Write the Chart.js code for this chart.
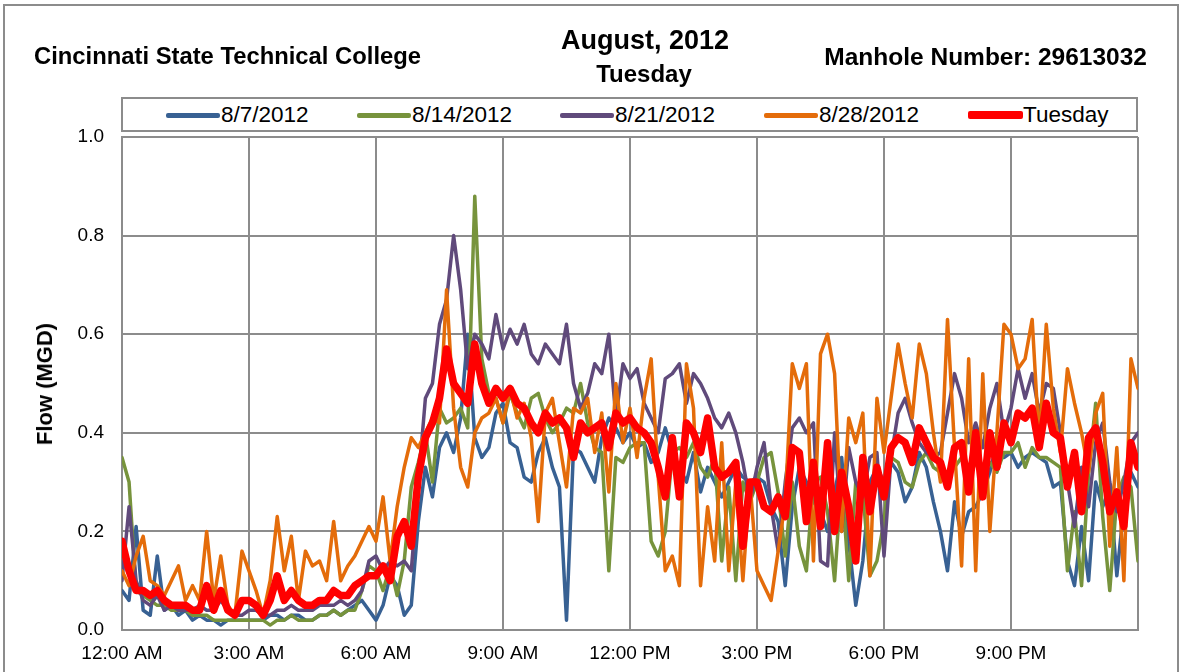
<!DOCTYPE html>
<html>
<head>
<meta charset="utf-8">
<script src="https://cdn.jsdelivr.net/npm/chart.js@4.4.1/dist/chart.umd.min.js"></script>
<style>
    html, body { margin: 0; padding: 0; background: #fff; }
    #wrap { position: relative; width: 1183px; height: 672px; overflow: hidden; background: #fff; }
    #frame { position: absolute; left: 3px; top: 4px; width: 1172px; height: 720px; border: 2px solid #8c8c8c; }
    #c { position: absolute; left: 0; top: 0; }
    .hd { position: absolute; font-family: "Liberation Sans", Arial, sans-serif; font-weight: bold; color: #000; line-height: 1; white-space: nowrap; }
    #legend { position: absolute; left: 121px; top: 97px; width: 1013px; height: 31px; border: 2px solid #8c8c8c; background: #fff; }
    .lg-line { position: absolute; border-radius: 2px; }
    .lg-text { position: absolute; font-family: "Liberation Sans", Arial, sans-serif; font-size: 22.5px; line-height: 1; color: #000; white-space: nowrap; }
    #ytitle { position: absolute; left: 45px; top: 384px; transform: translate(-50%, -50%) rotate(-90deg); font-family: "Liberation Sans", Arial, sans-serif; font-weight: bold; font-size: 22px; line-height: 1; white-space: nowrap; }
</style>
</head>
<body>
<div id="wrap">
    <div id="frame"></div>
    <canvas id="c" width="1183" height="672"></canvas>
    <div class="hd" style="left:34px; top:44px; font-size:23.8px;">Cincinnati State Technical College</div>
    <div class="hd" style="left:645px; top:27px; font-size:27px; transform:translateX(-50%);">August, 2012</div>
    <div class="hd" style="left:644px; top:62px; font-size:24px; transform:translateX(-50%);">Tuesday</div>
    <div class="hd" style="right:36px; top:45px; font-size:24.5px;">Manhole Number: 29613032</div>
    <div id="legend"></div>
    <div id="ytitle">Flow (MGD)</div>
</div>
<script>
// readings every 10 minutes, 12:00 AM through 12:00 AM next day
const stepMinutes = 10;
const xTickLabels = ['12:00 AM', '3:00 AM', '6:00 AM', '9:00 AM', '12:00 PM', '3:00 PM', '6:00 PM', '9:00 PM', ''];

const seriesNames = ['8/7/2012', '8/14/2012', '8/21/2012', '8/28/2012', 'Tuesday'];
const seriesColors = ['#386193', '#77933c', '#604a7b', '#e46c0a', '#ff0000'];

const flowAug07 = [
    0.08, 0.06, 0.21, 0.04, 0.03, 0.15, 0.04, 0.05, 0.03, 0.04, 0.02, 0.03, 0.02, 0.02, 0.01, 0.02, 0.02, 0.02,
    0.02, 0.02, 0.02, 0.03, 0.03, 0.02, 0.03, 0.03, 0.02, 0.02, 0.03, 0.03, 0.04, 0.03, 0.04, 0.05, 0.06, 0.04,
    0.02, 0.05, 0.11, 0.09, 0.03, 0.05, 0.22, 0.33, 0.27, 0.37, 0.40, 0.36, 0.43, 0.60, 0.39, 0.35, 0.37, 0.44,
    0.46, 0.38, 0.37, 0.31, 0.30, 0.36, 0.39, 0.33, 0.29, 0.02, 0.37, 0.36, 0.33, 0.30, 0.39, 0.43, 0.41, 0.38,
    0.40, 0.37, 0.38, 0.34, 0.36, 0.41, 0.36, 0.33, 0.30, 0.36, 0.28, 0.33, 0.30, 0.27, 0.30, 0.33, 0.31, 0.30,
    0.31, 0.30, 0.25, 0.22, 0.09, 0.25, 0.33, 0.30, 0.26, 0.24, 0.20, 0.28, 0.35, 0.18, 0.05, 0.14, 0.30, 0.33,
    0.30, 0.34, 0.32, 0.26, 0.29, 0.36, 0.33, 0.26, 0.20, 0.12, 0.26, 0.19, 0.24, 0.25, 0.28, 0.32, 0.38, 0.35,
    0.36, 0.33, 0.35, 0.36, 0.35, 0.34, 0.29, 0.30, 0.14, 0.09, 0.21, 0.10, 0.30, 0.25, 0.29, 0.11, 0.25, 0.32, 0.29
];
const flowAug14 = [
    0.35, 0.30, 0.08, 0.07, 0.06, 0.05, 0.05, 0.04, 0.04, 0.04, 0.03, 0.03, 0.03, 0.02, 0.02, 0.02, 0.02, 0.02,
    0.02, 0.02, 0.02, 0.01, 0.02, 0.02, 0.03, 0.02, 0.02, 0.02, 0.03, 0.03, 0.04, 0.03, 0.04, 0.04, 0.08, 0.13,
    0.12, 0.08, 0.13, 0.07, 0.14, 0.29, 0.34, 0.40, 0.30, 0.45, 0.42, 0.43, 0.45, 0.41, 0.88, 0.55, 0.48, 0.47,
    0.42, 0.48, 0.44, 0.41, 0.47, 0.48, 0.43, 0.40, 0.42, 0.45, 0.44, 0.50, 0.42, 0.37, 0.36, 0.12, 0.35, 0.34,
    0.37, 0.38, 0.38, 0.18, 0.15, 0.20, 0.36, 0.37, 0.35, 0.38, 0.33, 0.31, 0.35, 0.14, 0.29, 0.10, 0.30, 0.26,
    0.30, 0.35, 0.36, 0.28, 0.15, 0.30, 0.17, 0.12, 0.30, 0.31, 0.24, 0.10, 0.31, 0.10, 0.30, 0.28, 0.11, 0.14,
    0.22, 0.35, 0.34, 0.30, 0.29, 0.34, 0.36, 0.33, 0.32, 0.31, 0.33, 0.35, 0.31, 0.34, 0.32, 0.34, 0.32, 0.36,
    0.36, 0.38, 0.33, 0.37, 0.35, 0.35, 0.34, 0.33, 0.12, 0.24, 0.09, 0.32, 0.46, 0.23, 0.08, 0.27, 0.31, 0.29, 0.14
];
const flowAug21 = [
    0.10, 0.25, 0.10, 0.06, 0.05, 0.07, 0.04, 0.05, 0.04, 0.04, 0.04, 0.05, 0.04, 0.04, 0.06, 0.04, 0.03, 0.03,
    0.04, 0.04, 0.03, 0.03, 0.04, 0.04, 0.05, 0.04, 0.04, 0.04, 0.05, 0.05, 0.05, 0.06, 0.05, 0.06, 0.08, 0.14,
    0.15, 0.12, 0.14, 0.13, 0.14, 0.12, 0.30, 0.47, 0.50, 0.62, 0.67, 0.80, 0.69, 0.53, 0.60, 0.58, 0.55, 0.64,
    0.57, 0.61, 0.58, 0.62, 0.56, 0.54, 0.58, 0.56, 0.54, 0.62, 0.50, 0.45, 0.48, 0.54, 0.52, 0.60, 0.43, 0.54,
    0.51, 0.53, 0.46, 0.43, 0.40, 0.51, 0.52, 0.54, 0.46, 0.52, 0.50, 0.47, 0.43, 0.41, 0.44, 0.40, 0.34, 0.26,
    0.33, 0.38, 0.25, 0.16, 0.30, 0.41, 0.43, 0.40, 0.42, 0.14, 0.13, 0.40, 0.20, 0.37, 0.30, 0.27, 0.35, 0.36,
    0.15, 0.35, 0.44, 0.47, 0.42, 0.38, 0.36, 0.35, 0.36, 0.44, 0.52, 0.47, 0.38, 0.42, 0.37, 0.45, 0.50, 0.40,
    0.45, 0.53, 0.47, 0.52, 0.44, 0.50, 0.49, 0.40, 0.30, 0.21, 0.33, 0.25, 0.38, 0.42, 0.30, 0.24, 0.30, 0.38, 0.40
];
const flowAug28 = [
    0.12, 0.09, 0.15, 0.19, 0.10, 0.09, 0.07, 0.10, 0.13, 0.06, 0.09, 0.06, 0.20, 0.06, 0.15, 0.05, 0.03, 0.16,
    0.12, 0.08, 0.03, 0.10, 0.23, 0.12, 0.19, 0.06, 0.16, 0.13, 0.14, 0.10, 0.22, 0.10, 0.13, 0.15, 0.18, 0.21,
    0.18, 0.27, 0.14, 0.25, 0.33, 0.39, 0.37, 0.40, 0.43, 0.42, 0.69, 0.45, 0.33, 0.29, 0.40, 0.43, 0.44, 0.47,
    0.42, 0.49, 0.43, 0.46, 0.39, 0.22, 0.44, 0.47, 0.38, 0.29, 0.45, 0.44, 0.47, 0.36, 0.44, 0.28, 0.50, 0.38,
    0.45, 0.35, 0.47, 0.55, 0.31, 0.12, 0.15, 0.09, 0.54, 0.45, 0.09, 0.25, 0.14, 0.38, 0.12, 0.30, 0.10, 0.30,
    0.12, 0.09, 0.06, 0.16, 0.26, 0.54, 0.49, 0.54, 0.14, 0.56, 0.60, 0.52, 0.20, 0.43, 0.38, 0.44, 0.11, 0.47,
    0.36, 0.47, 0.58, 0.50, 0.43, 0.58, 0.52, 0.40, 0.30, 0.63, 0.37, 0.13, 0.55, 0.12, 0.52, 0.20, 0.40, 0.62,
    0.60, 0.53, 0.55, 0.63, 0.38, 0.62, 0.45, 0.36, 0.53, 0.46, 0.40, 0.32, 0.44, 0.48, 0.17, 0.37, 0.10, 0.55, 0.49
];
const flowTuesday = [
    0.18, 0.12, 0.08, 0.08, 0.07, 0.08, 0.06, 0.05, 0.05, 0.05, 0.04, 0.04, 0.09, 0.04, 0.08, 0.04, 0.03, 0.06,
    0.06, 0.05, 0.03, 0.06, 0.11, 0.06, 0.08, 0.06, 0.05, 0.05, 0.06, 0.06, 0.08, 0.07, 0.07, 0.09, 0.10, 0.11,
    0.11, 0.13, 0.10, 0.19, 0.22, 0.17, 0.31, 0.39, 0.42, 0.47, 0.57, 0.50, 0.48, 0.46, 0.58, 0.50, 0.46, 0.49,
    0.47, 0.49, 0.46, 0.45, 0.42, 0.40, 0.44, 0.42, 0.43, 0.41, 0.35, 0.42, 0.40, 0.41, 0.42, 0.37, 0.44, 0.42,
    0.43, 0.41, 0.40, 0.38, 0.33, 0.27, 0.39, 0.27, 0.42, 0.40, 0.36, 0.43, 0.33, 0.31, 0.32, 0.34, 0.17, 0.30,
    0.30, 0.25, 0.24, 0.27, 0.23, 0.37, 0.36, 0.22, 0.34, 0.21, 0.38, 0.20, 0.32, 0.25, 0.14, 0.35, 0.24, 0.33,
    0.27, 0.37, 0.39, 0.38, 0.34, 0.41, 0.38, 0.35, 0.34, 0.29, 0.37, 0.38, 0.28, 0.40, 0.27, 0.40, 0.33, 0.42,
    0.38, 0.44, 0.43, 0.45, 0.37, 0.46, 0.40, 0.39, 0.29, 0.36, 0.24, 0.39, 0.41, 0.34, 0.24, 0.28, 0.21, 0.38, 0.33
];

const allSeries = [flowAug07, flowAug14, flowAug21, flowAug28, flowTuesday];
const minutes = flowAug07.map((_, i) => i * stepMinutes);

// legend drawn as html, positions
const legendSpots = [43, 234, 437, 641, 845];
const legend = document.getElementById('legend');
seriesNames.forEach((name, i) => {
    const thick = i === 4 ? 8 : 5;
    const ln = document.createElement('div');
    ln.className = 'lg-line';
    ln.style.left = legendSpots[i] + 'px';
    ln.style.top = (16 - thick / 2) + 'px';
    ln.style.width = (i === 4 ? 55 : 54) + 'px';
    ln.style.height = thick + 'px';
    ln.style.background = seriesColors[i];
    legend.appendChild(ln);
    const tx = document.createElement('div');
    tx.className = 'lg-text';
    tx.style.left = (legendSpots[i] + 55) + 'px';
    tx.style.top = '5px';
    tx.textContent = name;
    legend.appendChild(tx);
});

const gridColor = '#8c8c8c';
const tickFont = { family: '"Liberation Sans", Arial, sans-serif', size: 19 };

const ctx = document.getElementById('c').getContext('2d');
new Chart(ctx, {
    type: 'line',
    data: {
        labels: minutes,
        datasets: allSeries.map((vals, i) => ({
            label: seriesNames[i],
            data: vals,
            borderColor: seriesColors[i],
            borderWidth: i === 4 ? 7.5 : 3.5,
            pointRadius: 0,
            tension: 0,
            fill: false,
            borderJoinStyle: 'round',
            borderCapStyle: 'round',
            order: 4 - i
        }))
    },
    options: {
        responsive: false,
        animation: false,
        devicePixelRatio: 1,
        layout: { padding: { top: 137, right: 45, left: 0, bottom: 0 } },
        plugins: {
            legend: { display: false },
            tooltip: { enabled: false }
        },
        scales: {
            x: {
                type: 'linear',
                min: 0,
                max: 1440,
                afterFit: s => { s.height = 42; },
                afterBuildTicks: s => {
                    s.ticks = xTickLabels.map((_, i) => ({ value: i * 180 }));
                },
                ticks: {
                    autoSkip: false,
                    maxRotation: 0,
                    padding: 12,
                    color: '#000',
                    font: tickFont,
                    callback: v => xTickLabels[Math.round(v / 180)] || ''
                },
                grid: { color: gridColor, lineWidth: 2, drawTicks: false },
                border: { color: gridColor, width: 2 }
            },
            y: {
                min: 0,
                max: 1,
                afterFit: s => { s.width = 122; },
                ticks: {
                    stepSize: 0.2,
                    padding: 18,
                    color: '#000',
                    font: tickFont,
                    callback: v => v.toFixed(1)
                },
                grid: { color: gridColor, lineWidth: 2, drawTicks: false },
                border: { color: gridColor, width: 2 }
            }
        }
    }
});
</script>
</body>
</html>
